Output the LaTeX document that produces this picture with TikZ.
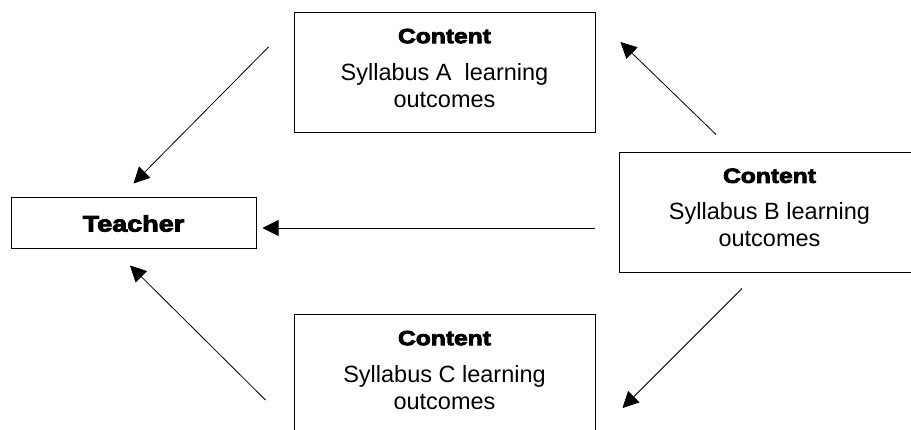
\documentclass[tikz,border=0pt]{standalone}
\usepackage{fontspec}
\setmainfont{Liberation Sans}
\newfontfamily\heavyfont[FakeBold=4,FakeStretch=1.2]{Liberation Sans Bold}
\usetikzlibrary{arrows.meta}
\newcommand{\boxtitle}[1]{{\heavyfont\fontsize{20.5}{27}\selectfont #1}}
\begin{document}
\begin{tikzpicture}[x=1pt, y=-1pt,
        box/.style={draw, line width=1pt, inner sep=0pt, minimum width=301pt, minimum height=120pt,
            align=center, font=\fontsize{23.5}{27}\selectfont},
        flow/.style={line width=0.8pt, -{Triangle[length=16pt,width=16pt]}}]
        \clip (0,0) rectangle (911,430);
        \node[draw, line width=1pt, minimum width=245pt, minimum height=51pt,
            font=\heavyfont\fontsize{22.5}{27}\selectfont] (teacher) at (133.5,223.5) {Teacher};
        \node[box] (contA) at (444.5,73) {\boxtitle{Content}\\[10pt]Syllabus A\ \ learning\\outcomes\rule[-10pt]{0pt}{10pt}};
        \node[box] (contB) at (769.5,212.7) {\boxtitle{Content}\\[10pt]Syllabus B learning\\outcomes\rule[-10pt]{0pt}{10pt}};
        \node[box] (contC) at (444.5,375) {\boxtitle{Content}\\[10pt]Syllabus C learning\\outcomes\rule[-10pt]{0pt}{10pt}};
        % everything points back to the teacher
        \draw[flow] ([xshift=-25pt,yshift=26pt]contA.west) -- ([yshift=14pt]teacher.north);
        \draw[flow] ([xshift=-24pt,yshift=-15.3pt]contB.west) -- ([xshift=6pt,yshift=-4.5pt]teacher.east);
        \draw[flow] ([xshift=-28pt,yshift=-25pt]contC.west) -- ([xshift=-3.5pt,yshift=-16pt]teacher.south);
        % syllabus B feeds A and C
        \draw[flow] ([xshift=-53.5pt,yshift=17.7pt]contB.north) -- ([xshift=25pt,yshift=31pt]contA.east);
        \draw[flow] ([xshift=-27.5pt,yshift=-15.3pt]contB.south) -- ([xshift=27pt,yshift=-33pt]contC.east);
    \end{tikzpicture}
\end{document}
